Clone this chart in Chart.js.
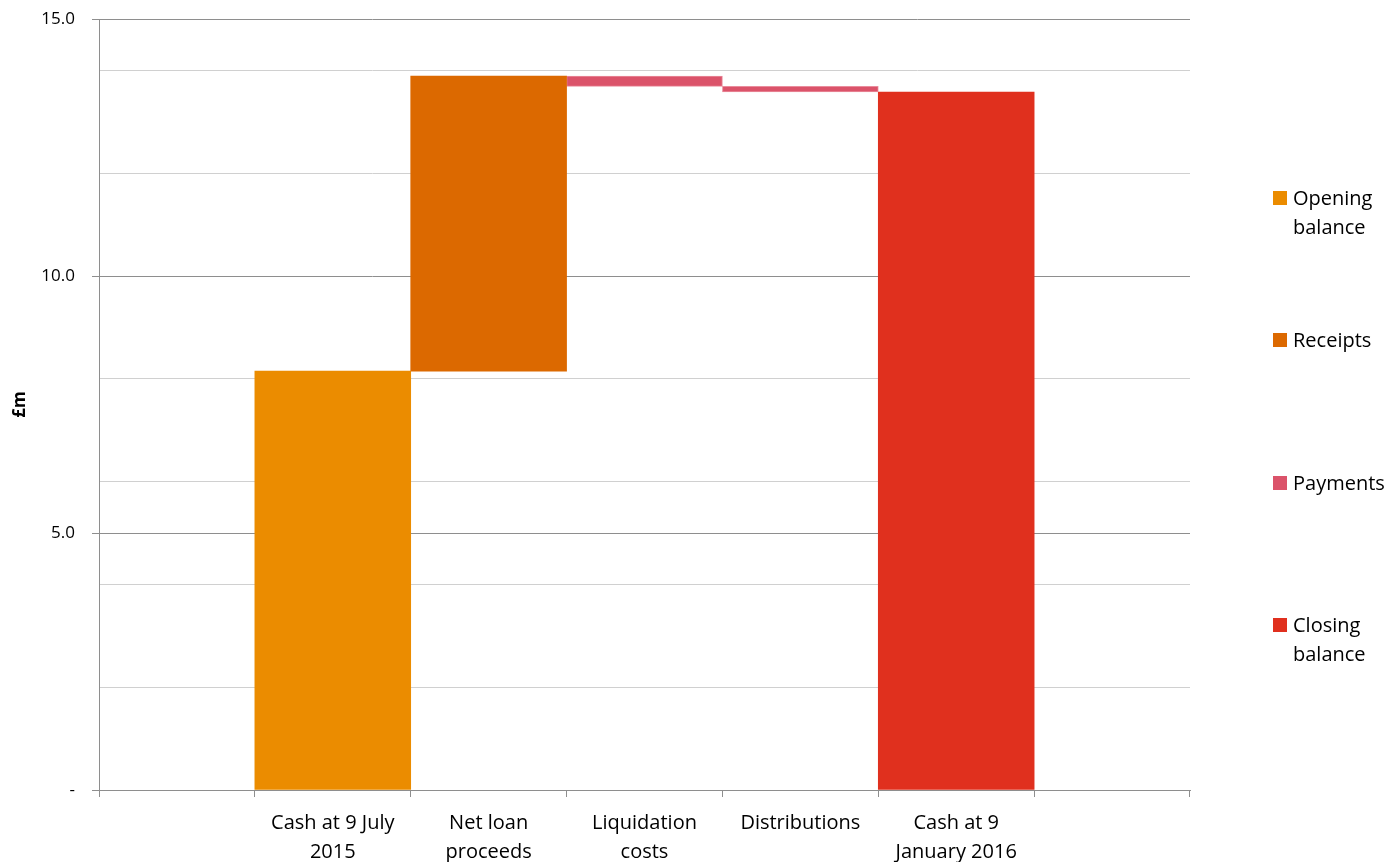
<!DOCTYPE html>
<html>
<head>
<meta charset="utf-8">
<title>Cash movements</title>
<script src="https://cdn.jsdelivr.net/npm/chart.js@4/dist/chart.umd.min.js"></script>
<style>
  html, body { margin: 0; padding: 0; background: #fff; }
  #wrap { position: relative; width: 1393px; height: 862px; }
  #legend { position: absolute; left: 0; top: 0; font-family: "Open Sans", sans-serif; font-size: 20px; color: #000; }
  .item { position: absolute; left: 1273px; width: 120px; }
  .sw { position: absolute; left: 0; top: 8px; width: 14px; height: 14px; }
  .txt { position: absolute; left: 20px; width: 105px; line-height: 29px; }
</style>
</head>
<body>
<div id="wrap">
  <canvas id="chart" width="1393" height="862"></canvas>
  <div id="legend"></div>
</div>
<script>
// Categories (empty slots pad both ends of the axis)
const categories = [
  '',
  ['Cash at 9 July', '2015'],
  ['Net loan', 'proceeds'],
  ['Liquidation', 'costs'],
  ['Distributions'],
  ['Cash at 9', 'January 2016'],
  ''
];

// Movements in £m
const openingBalance = 8.15;
const receipts = [5.74];          // Net loan proceeds
const payments = [-0.20, -0.11];  // Liquidation costs, Distributions
const closingBalance = 13.58;

// Y-axis tick values and which of them carry labels
const yTickValues = [0, 2, 4, 5, 6, 8, 10, 12, 14, 15];
const yLabelledTicks = [0, 5, 10, 15];

const seriesNames = ['Opening balance', 'Receipts', 'Payments', 'Closing balance'];
const seriesColors = ['#EB8C00', '#DC6900', '#DB536A', '#E0301E'];

// Build floating [from, to] ranges for the waterfall
const n = categories.length;
const openData = Array(n).fill(null);
const recData = Array(n).fill(null);
const payData = Array(n).fill(null);
const closeData = Array(n).fill(null);

let running = openingBalance;
openData[1] = [0, openingBalance];
receipts.forEach((v, i) => { recData[2 + i] = [running, running + v]; running += v; });
payments.forEach((v, i) => { payData[3 + i] = [running + v, running]; running += v; });
closeData[5] = [0, closingBalance];

const FONT = '"Open Sans", sans-serif';
const majorGrid = '#8e8e8e';
const minorGrid = '#d0d0d0';

const datasets = [openData, recData, payData, closeData].map((d, i) => ({
  label: seriesNames[i],
  data: d,
  backgroundColor: seriesColors[i],
  borderColor: i === 2 ? '#EA8C9C' : seriesColors[i],
  borderWidth: i === 2 ? 1 : 0,
  borderSkipped: false,
  grouped: false,
  barPercentage: 1,
  categoryPercentage: 1
}));

new Chart(document.getElementById('chart'), {
  type: 'bar',
  data: { labels: categories, datasets },
  options: {
    responsive: false,
    animation: false,
    layout: { padding: { left: 0, right: 203, top: 19, bottom: 0 } },
    plugins: { legend: { display: false }, tooltip: { enabled: false } },
    scales: {
      x: {
        offset: true,
        afterFit: s => { s.height = 72; },
        border: { display: true, color: majorGrid, width: 1 },
        grid: { offset: true, drawOnChartArea: false, drawTicks: true, tickLength: 7, color: majorGrid },
        ticks: {
          color: '#000',
          padding: 12,
          maxRotation: 0,
          autoSkip: false,
          font: { family: FONT, size: 20, lineHeight: 1.45 }
        }
      },
      y: {
        min: 0,
        max: 15,
        afterFit: s => { s.width = 99; s.paddingTop = 10; s.paddingBottom = 10; },
        afterBuildTicks: s => { s.ticks = yTickValues.map(v => ({ value: v })); },
        border: { display: true, color: majorGrid, width: 1 },
        grid: {
          color: ctx => yLabelledTicks.includes(ctx.tick.value) ? majorGrid : minorGrid,
          tickColor: ctx => yLabelledTicks.includes(ctx.tick.value) ? majorGrid : 'rgba(0,0,0,0)',
          tickLength: 7
        },
        ticks: {
          autoSkip: false,
          color: '#000',
          padding: 17,
          font: { family: FONT, size: 17 },
          callback: v => yLabelledTicks.includes(v) ? (v === 0 ? '-' : v.toFixed(1)) : ''
        },
        title: {
          display: true,
          text: '£m',
          color: '#000',
          padding: { top: 10, bottom: 0 },
          font: { family: FONT, size: 17, weight: 'bold' }
        }
      }
    }
  }
});

// Legend on the right
const legend = document.getElementById('legend');
seriesNames.forEach((name, i) => {
  const item = document.createElement('div');
  item.className = 'item';
  item.style.top = (183 + i * 142.3) + 'px';
  const sw = document.createElement('div');
  sw.className = 'sw';
  sw.style.background = seriesColors[i];
  const txt = document.createElement('div');
  txt.className = 'txt';
  txt.textContent = name;
  item.appendChild(sw);
  item.appendChild(txt);
  legend.appendChild(item);
});
</script>
</body>
</html>
